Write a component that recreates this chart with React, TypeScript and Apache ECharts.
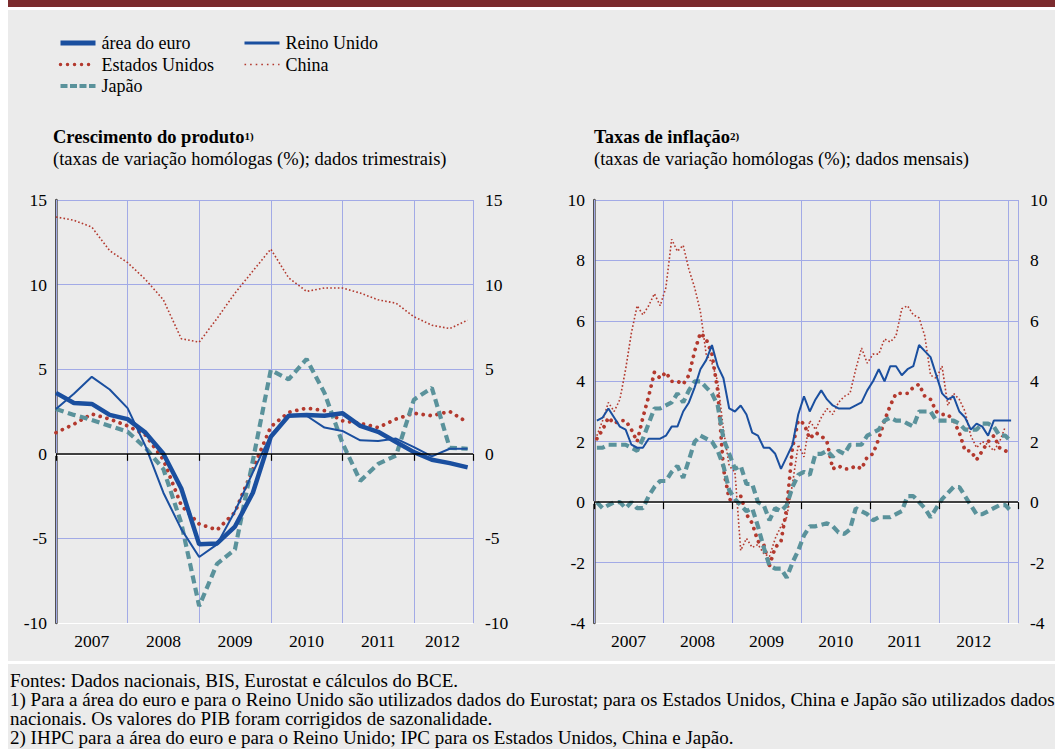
import React, { useEffect, useRef } from 'react';
import * as echarts from 'echarts';

// ---------- DATA ----------
const yearLabels = ['2007', '2008', '2009', '2010', '2011', '2012'];

// Quarterly GDP growth, 2007 Q1 .. 2012 Q4
const euroGDP = [3.6, 3.0, 2.95, 2.3, 2.05, 1.25, 0.0, -2.05, -5.35, -5.3, -4.3, -2.3, 1.0, 2.25, 2.3, 2.25, 2.4, 1.65, 1.3, 0.7, 0.1, -0.35, -0.55, -0.8];
const usGDP = [1.25, 1.75, 2.35, 2.05, 1.65, 1.1, -0.35, -3.05, -4.15, -4.5, -3.45, -0.9, 1.6, 2.45, 2.7, 2.55, 1.95, 1.8, 1.55, 2.05, 2.4, 2.25, 2.5, 1.85];
const jpGDP = [2.65, 2.3, 2.0, 1.65, 1.3, 0.35, -0.9, -4.1, -9.0, -6.5, -5.65, -0.4, 4.95, 4.4, 5.6, 3.6, 0.65, -1.6, -0.6, -0.1, 3.2, 3.9, 0.35, 0.3];
const ukGDP = [2.65, 3.55, 4.55, 3.8, 2.7, 0.45, -2.3, -4.45, -6.1, -5.35, -3.4, -1.1, 1.1, 2.25, 2.25, 1.55, 1.35, 0.8, 0.75, 0.9, 0.4, -0.15, 0.3, 0.3];
const cnGDP = [14.0, 13.8, 13.4, 12.0, 11.3, 10.3, 9.1, 6.8, 6.6, 8.0, 9.5, 10.8, 12.1, 10.4, 9.6, 9.8, 9.8, 9.5, 9.1, 8.9, 8.1, 7.6, 7.4, 7.9];

// Monthly inflation, Jan 2007 ..
const euroCPI = [
  1.8, 1.8, 1.9, 1.9, 1.9, 1.9, 1.8, 1.7, 2.1, 2.6, 3.1, 3.1,
  3.2, 3.3, 3.6, 3.3, 3.7, 4.0, 4.0, 3.8, 3.6, 3.2, 2.1, 1.6,
  1.1, 1.2, 0.6, 0.6, 0.0, -0.1, -0.6, -0.2, -0.3, -0.1, 0.5, 0.9,
  1.0, 0.9, 1.6, 1.6, 1.7, 1.5, 1.7, 1.6, 1.9, 1.9, 1.9, 2.2,
  2.3, 2.4, 2.7, 2.8, 2.7, 2.7, 2.6, 2.5, 3.0, 3.0, 3.0, 2.7,
  2.7, 2.7, 2.7, 2.6, 2.4, 2.4, 2.4, 2.6, 2.6, 2.5, 2.2, 2.2,
  2.0,
];
const usCPI = [
  2.1, 2.4, 2.8, 2.6, 2.7, 2.7, 2.4, 2.0, 2.8, 3.5, 4.3, 4.1,
  4.3, 4.0, 4.0, 3.9, 4.2, 5.0, 5.6, 5.4, 4.9, 3.7, 1.1, 0.1,
  0.0, 0.2, -0.4, -0.7, -1.3, -1.4, -2.1, -1.5, -1.3, -0.2, 1.8, 2.7,
  2.6, 2.1, 2.3, 2.2, 2.0, 1.1, 1.2, 1.1, 1.1, 1.2, 1.1, 1.5,
  1.6, 2.1, 2.7, 3.2, 3.6, 3.6, 3.6, 3.8, 3.9, 3.5, 3.4, 3.0,
  2.9, 2.9, 2.7, 2.3, 1.7, 1.7, 1.4, 1.7, 2.0, 2.2, 1.8, 1.7,
  1.6,
];
const jpCPI = [
  0.0, -0.2, -0.1, 0.0, 0.0, -0.2, 0.0, -0.2, -0.2, 0.2, 0.5, 0.7,
  0.7, 1.0, 1.2, 0.8, 1.4, 2.0, 2.2, 2.1, 2.0, 1.7, 1.2, 0.4,
  0.1, -0.1, -0.3, -0.2, -0.8, -1.5, -2.1, -2.2, -2.2, -2.5, -2.0, -1.6,
  -1.1, -0.8, -0.8, -0.75, -0.7, -0.8, -1.0, -1.05, -0.9, -0.2, -0.3, -0.4,
  -0.6, -0.5, -0.5, -0.5, -0.4, -0.3, 0.2, 0.2, 0.0, -0.2, -0.5, -0.2,
  0.1, 0.3, 0.5, 0.5, 0.2, -0.1, -0.4, -0.4, -0.3, -0.2, -0.1, -0.1,
  -0.3,
];
const ukCPI = [
  2.7, 2.8, 3.1, 2.8, 2.5, 2.4, 1.9, 1.8, 1.8, 2.1, 2.1, 2.1,
  2.2, 2.5, 2.5, 3.0, 3.3, 3.8, 4.4, 4.7, 5.2, 4.5, 4.1, 3.1,
  3.0, 3.2, 2.9, 2.3, 2.2, 1.8, 1.8, 1.6, 1.1, 1.5, 1.9, 2.9,
  3.5, 3.0, 3.4, 3.7, 3.4, 3.2, 3.1, 3.1, 3.1, 3.2, 3.3, 3.7,
  4.0, 4.4, 4.0, 4.5, 4.5, 4.2, 4.4, 4.5, 5.2, 5.0, 4.8, 4.2,
  3.6, 3.4, 3.5, 3.0, 2.8, 2.4, 2.6, 2.5, 2.2, 2.7, 2.7, 2.7,
  2.7,
];
const cnCPI = [
  2.2, 2.7, 3.3, 3.0, 3.4, 4.4, 5.6, 6.5, 6.2, 6.5, 6.9, 6.5,
  7.1, 8.7, 8.3, 8.5, 7.7, 7.1, 6.3, 4.9, 4.6, 4.0, 2.4, 1.2,
  1.0, -1.6, -1.2, -1.5, -1.4, -1.7, -1.8, -1.2, -0.8, -0.5, 0.6, 1.9,
  1.5, 2.7, 2.4, 2.8, 3.1, 2.9, 3.3, 3.5, 3.6, 4.4, 5.1, 4.6,
  4.9, 4.9, 5.4, 5.3, 5.5, 6.4, 6.5, 6.2, 6.1, 5.5, 4.2, 4.1,
  4.5, 3.2, 3.6, 3.4, 3.0, 2.2, 1.8, 2.0, 1.9, 1.7, 2.0, 2.5,
];

// ---------- STYLE ----------
const FONT = '"Liberation Serif", "Times New Roman", serif';
const BLUE = '#1a4f9f';
const RED = '#b3392e';
const TEAL = '#5a929b';
const GRIDC = '#a2aae6';

const Q_MAX = 23.3; // quarter index at right edge of left panel
const M_MAX = 73.7; // month index at right edge of right panel

const qLabelPos = yearLabels.map((_, k) =>
  Math.round(((4 * k + Math.min(4 * k + 4, Q_MAX)) / 2) * 5) / 5
);
const mLabelPos = yearLabels.map((_, k) => 12 * k + 6);

const q = (arr: number[]) => arr.map((v, i) => [i, v]);
const m = (arr: number[]) => arr.map((v, i) => [i + 0.5, v]);

const blueThick = { color: BLUE, width: 4.5 };
const blueThin = { color: BLUE, width: 2 };
const usStyle = { color: RED, width: 3.8, type: [0.01, 7], cap: 'round' };
const cnStyle = { color: RED, width: 1.6, type: [1.6, 2.2] };
const tealDash = { color: TEAL, width: 4.2, type: [8, 4.5] };

function line(name: string, data: number[][], ls: any, xi: number, yi: number, extra: any = {}) {
  return {
    type: 'line',
    name,
    data,
    xAxisIndex: xi,
    yAxisIndex: yi,
    symbol: 'none',
    showSymbol: false,
    silent: true,
    lineStyle: ls,
    itemStyle: { color: ls.color },
    ...extra,
  };
}

const zeroLine = {
  markLine: {
    silent: true,
    symbol: 'none',
    label: { show: false },
    lineStyle: { color: '#000', width: 1.6, type: 'solid' },
    data: [{ yAxis: 0 }],
  },
};

const axisText = { fontFamily: FONT, fontSize: 17.5, color: '#000' };

function labelAxis(grid: number, max: number, interval: number, pos: number[]) {
  return {
    type: 'value', gridIndex: grid, min: 0, max, interval, position: 'bottom', offset: 2,
    axisLine: { show: true, lineStyle: { color: '#000', width: 1 } },
    axisTick: { show: false }, splitLine: { show: false },
    axisLabel: {
      ...axisText, margin: 7,
      formatter: (v: number) => {
        const k = pos.findIndex((p) => Math.abs(p - v) < 0.01);
        return k >= 0 ? yearLabels[k] : '';
      },
    },
  };
}

function dataAxis(grid: number, max: number, interval: number) {
  return {
    type: 'value', gridIndex: grid, min: 0, max, interval, position: 'bottom', z: 3,
    axisLine: { show: true, lineStyle: { color: '#ffffff', width: 3 } },
    axisTick: { show: true, length: 7, lineStyle: { color: '#000', width: 1.2 } },
    axisLabel: { show: false },
    splitLine: { show: true, lineStyle: { color: GRIDC, width: 1 } },
  };
}

function yAxis(grid: number, min: number, max: number, interval: number, side: 'left' | 'right') {
  const n = Math.round((max - min) / interval) + 1;
  const splitColors = Array.from({ length: n }, (_, i) => (i === 0 ? '#ffffff' : GRIDC));
  return {
    type: 'value', gridIndex: grid, min, max, interval, position: side,
    axisLine: {
      show: true,
      lineStyle: side === 'left' ? { color: '#000', width: 1.5 } : { color: '#5a5a5a', width: 2.5 },
    },
    axisTick: { show: false },
    axisLabel: { ...axisText, margin: side === 'left' ? 9 : 12 },
    splitLine: side === 'left'
      ? { show: true, lineStyle: { color: splitColors, width: 1 } }
      : { show: false },
  };
}

export default function App() {
  const ref = useRef<HTMLDivElement>(null);
  useEffect(() => {
    const chart = echarts.init(ref.current!, null, { renderer: 'svg' });
    const hidden = { color: 'rgba(0,0,0,0)', borderWidth: 0, opacity: 0 };
    const legendCommon = {
      orient: 'vertical',
      itemWidth: 35,
      itemHeight: 14,
      itemGap: 3.5,
      selectedMode: false,
      itemStyle: hidden,
      textStyle: { fontFamily: FONT, fontSize: 18, color: '#000', padding: [0, 0, 0, 1] },
    };
    const option: any = {
      animation: false,
      backgroundColor: 'transparent',
      legend: [
        {
          ...legendCommon, left: 53, top: 29,
          data: [
            { name: 'área do euro', lineStyle: { color: BLUE, width: 5, type: 'solid' }, itemStyle: hidden },
            { name: 'Estados Unidos', lineStyle: { color: RED, width: 3.5, type: [0.01, 7], cap: 'round' }, itemStyle: hidden },
            { name: 'Japão', lineStyle: { color: TEAL, width: 4, type: [7, 2.5] }, itemStyle: hidden },
          ],
        },
        {
          ...legendCommon, left: 238, top: 29,
          data: [
            { name: 'Reino Unido', lineStyle: { color: BLUE, width: 3, type: 'solid' }, itemStyle: hidden },
            { name: 'China', lineStyle: { color: RED, width: 1.6, type: [1.6, 4] }, itemStyle: hidden },
          ],
        },
      ],
      grid: [
        { left: 56, top: 200, width: 417, height: 423 },
        { left: 594, top: 200, width: 424, height: 423 },
      ],
      xAxis: [
        dataAxis(0, Q_MAX, 4),
        labelAxis(0, Q_MAX, 0.2, qLabelPos),
        dataAxis(1, M_MAX, 12),
        labelAxis(1, M_MAX, 6, mLabelPos),
      ],
      yAxis: [
        yAxis(0, -10, 15, 5, 'left'),
        yAxis(0, -10, 15, 5, 'right'),
        yAxis(1, -4, 10, 2, 'left'),
        yAxis(1, -4, 10, 2, 'right'),
      ],
      series: [
        line('China', q(cnGDP), cnStyle, 0, 0, zeroLine),
        line('Estados Unidos', q(usGDP), usStyle, 0, 0),
        line('Japão', q(jpGDP), tealDash, 0, 0),
        line('Reino Unido', q(ukGDP), blueThin, 0, 0),
        line('área do euro', q(euroGDP), blueThick, 0, 0),

        line('China', m(cnCPI), cnStyle, 2, 2, zeroLine),
        line('Estados Unidos', m(usCPI), usStyle, 2, 2),
        line('área do euro', m(euroCPI), tealDash, 2, 2),
        line('Japão', m(jpCPI), tealDash, 2, 2),
        line('Reino Unido', m(ukCPI), blueThin, 2, 2),
      ],
    };
    chart.setOption(option);
    return () => chart.dispose();
  }, []);

  const abs = (l: number, t: number, extra: any = {}) => ({ position: 'absolute' as const, left: l, top: t, ...extra });
  const title = { fontFamily: FONT, fontSize: 18.5, color: '#000', whiteSpace: 'nowrap' as const, lineHeight: '22px' };
  const foot = { fontFamily: FONT, fontSize: 19, color: '#000', whiteSpace: 'nowrap' as const, lineHeight: '19px' };
  const sup = { fontSize: 11, verticalAlign: 'top', position: 'relative' as const, top: -1 };

  return (
    <div style={{ position: 'absolute', left: 0, top: 0, width: 1055, height: 749, background: '#ffffff', overflow: 'hidden' }}>
      <div style={abs(8, 0, { width: 1047, height: 7, background: '#7b2b2e' })} />
      <div style={abs(8, 10, { width: 1047, height: 651, background: '#ebebeb' })} />
      <div style={abs(8, 664, { width: 1047, height: 85, background: '#ebebeb' })} />
      <div ref={ref} style={abs(0, 0, { width: 1055, height: 749 })} />

      <div style={abs(53, 126, { ...title, fontWeight: 'bold' })}>
        Crescimento do produto<span style={sup}>1)</span>
      </div>
      <div style={abs(53, 148, title)}>(taxas de variação homólogas (%); dados trimestrais)</div>

      <div style={abs(594, 126, { ...title, fontWeight: 'bold' })}>
        Taxas de inflação<span style={sup}>2)</span>
      </div>
      <div style={abs(594, 148, title)}>(taxas de variação homólogas (%); dados mensais)</div>

      <div style={abs(10, 671, foot)}>
        <div>Fontes: Dados nacionais, BIS, Eurostat e cálculos do BCE.</div>
        <div>1) Para a área do euro e para o Reino Unido são utilizados dados do Eurostat; para os Estados Unidos, China e Japão são utilizados dados</div>
        <div>nacionais. Os valores do PIB foram corrigidos de sazonalidade.</div>
        <div>2) IHPC para a área do euro e para o Reino Unido; IPC para os Estados Unidos, China e Japão.</div>
      </div>
    </div>
  );
}
